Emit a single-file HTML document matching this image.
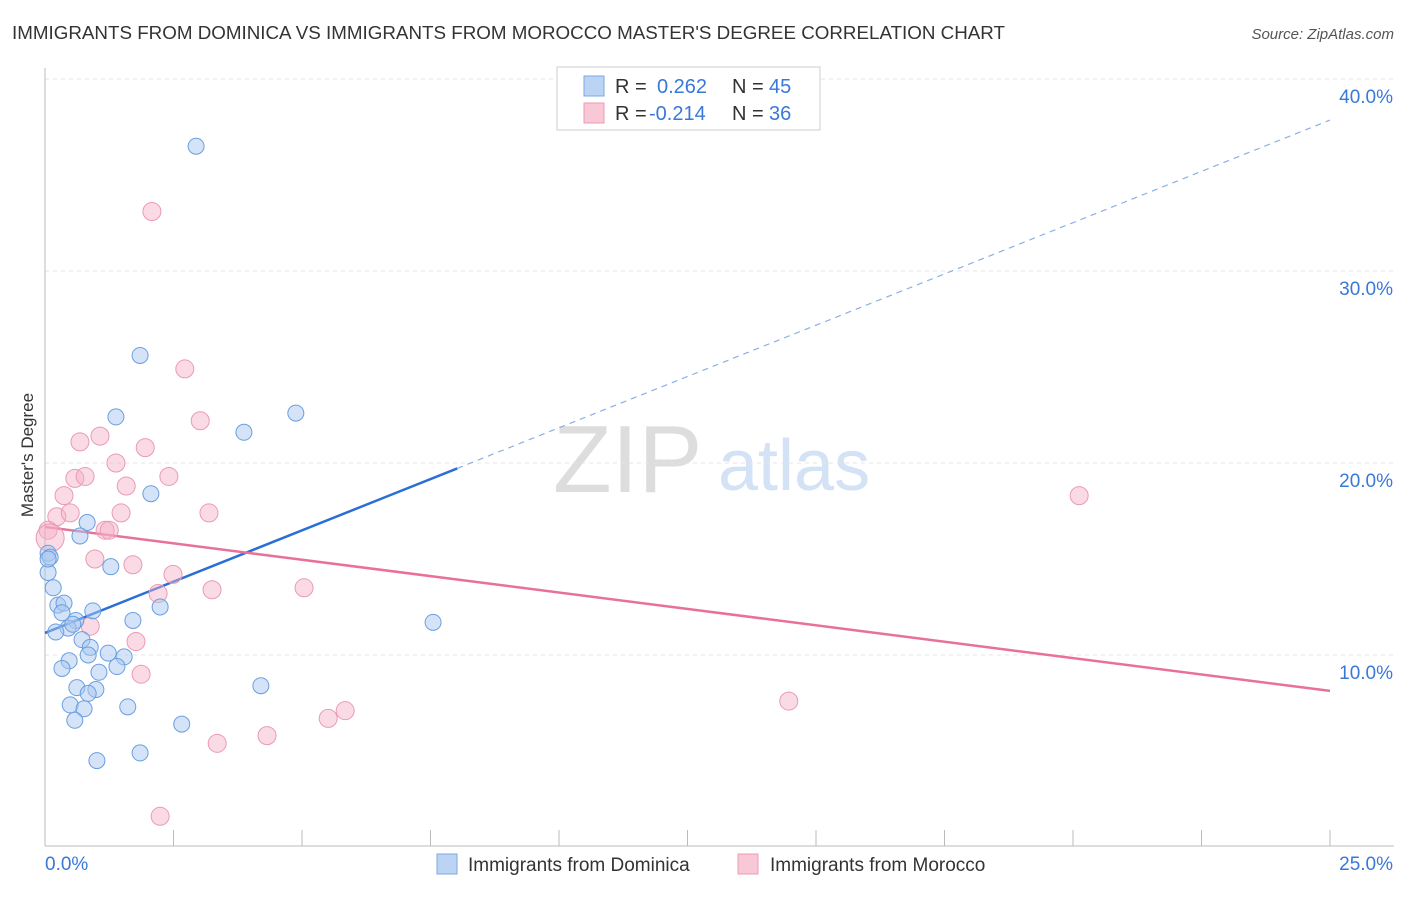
<!DOCTYPE html>
<html><head><meta charset="utf-8"><style>
body{margin:0;background:#fff;font-family:"Liberation Sans",sans-serif;}
svg text{font-family:"Liberation Sans",sans-serif;}
</style></head><body>
<svg id="c" width="1406" height="892" xmlns="http://www.w3.org/2000/svg">
<text x="12" y="39" font-size="18" fill="#333" textLength="993" lengthAdjust="spacingAndGlyphs">IMMIGRANTS FROM DOMINICA VS IMMIGRANTS FROM MOROCCO MASTER'S DEGREE CORRELATION CHART</text>
<text x="1394" y="39" font-size="15" fill="#555" text-anchor="end" font-style="italic">Source: ZipAtlas.com</text>
<text x="33" y="455" font-size="17" fill="#333" text-anchor="middle" transform="rotate(-90 33 455)">Master's Degree</text>
<g><text x="553" y="492" font-size="96" fill="#ddd" font-family="Liberation Serif,serif">ZIP</text><text x="718" y="490" font-size="72" fill="#d3e2f5">atlas</text></g>
<g id="grid"></g><g id="axes"></g><g id="lines"></g><g id="pts"></g>
<g>
<rect x="557" y="67" width="263" height="63" fill="#fff" stroke="#ccc"/>
<rect x="584" y="76" width="20" height="20" fill="#bcd4f4" stroke="#7aa7e4"/>
<text x="615" y="93" font-size="20" fill="#333">R = </text><text x="657" y="93" font-size="20" fill="#3a78d8">0.262</text>
<text x="732" y="93" font-size="20" fill="#333">N = </text><text x="769" y="93" font-size="20" fill="#3a78d8">45</text>
<rect x="584" y="103" width="20" height="20" fill="#f8c8d6" stroke="#eb9ab4"/>
<text x="615" y="120" font-size="20" fill="#333">R = </text><text x="649" y="120" font-size="20" fill="#3a78d8">-0.214</text>
<text x="732" y="120" font-size="20" fill="#333">N = </text><text x="769" y="120" font-size="20" fill="#3a78d8">36</text>
</g>
<g>
<rect x="437" y="854" width="20" height="20" fill="#bcd4f4" stroke="#7aa7e4"/>
<text x="468" y="871" font-size="19" fill="#333">Immigrants from Dominica</text>
<rect x="738" y="854" width="20" height="20" fill="#f8c8d6" stroke="#eb9ab4"/>
<text x="770" y="871" font-size="19" fill="#333">Immigrants from Morocco</text>
</g>
</svg>
<script>
const yTicks=[10,20,30,40];
const yTickLabels=["10.0%","20.0%","30.0%","40.0%"];
const xEndLabels=["0.0%","25.0%"];
const blueX=[2.94,1.85,1.38,4.88,3.87,2.06,0.82,0.68,0.06,0.10,0.06,1.28,0.16,0.25,0.37,0.93,0.33,1.71,2.24,0.60,0.45,0.21,0.54,0.72,0.88,0.84,1.23,1.54,1.40,0.47,0.33,1.05,0.62,0.99,0.84,0.49,0.76,1.61,0.58,4.20,2.66,1.85,1.01,7.55,0.06];
const blueY=[36.5,25.6,22.4,22.6,21.6,18.4,16.9,16.2,15.3,15.1,14.3,14.6,13.5,12.6,12.7,12.3,12.2,11.8,12.5,11.8,11.4,11.2,11.6,10.8,10.4,10.0,10.1,9.9,9.4,9.7,9.3,9.1,8.3,8.2,8.0,7.4,7.2,7.3,6.6,8.4,6.4,4.9,4.5,11.7,15.0];
const pinkX=[2.08,2.72,3.02,0.68,1.07,1.95,1.38,0.58,0.78,2.41,1.58,0.37,0.23,0.49,1.48,3.19,1.17,1.25,0.06,0.10,0.97,1.71,2.49,2.20,3.25,5.04,0.88,1.77,1.87,20.12,14.47,5.84,5.51,4.32,3.35,2.24];
const pinkY=[33.1,24.9,22.2,21.1,21.4,20.8,20.0,19.2,19.3,19.3,18.8,18.3,17.2,17.4,17.4,17.4,16.5,16.5,16.5,16.1,15.0,14.7,14.2,13.2,13.4,13.5,11.5,10.7,9.0,18.3,7.6,7.1,6.7,5.8,5.4,1.6];
const pinkR=[9,9,9,9,9,9,9,9,9,9,9,9,9,9,9,9,9,9,9,14,9,9,9,9,9,9,9,9,9,9,9,9,9,9,9,9];
const blueLine=[11.15,37.86], blueSolidEnd=8.02;
const pinkLine=[16.67,8.13];
const NS="http://www.w3.org/2000/svg";
const X=v=>45+v*51.4, Y=v=>847-v*19.2;
function mk(p,t,a){const e=document.createElementNS(NS,t);for(const k in a)e.setAttribute(k,a[k]);document.getElementById(p).appendChild(e);return e;}
yTicks.forEach((t,i)=>{
 let g=mk('grid','line',{x1:45,x2:1394,y1:Y(t),y2:Y(t),stroke:'#e4e4e4','stroke-dasharray':'4 4'});
 
 
 let l=mk('grid','text',{x:1393,y:Y(t)+24,'font-size':19,fill:'#3a78d8','text-anchor':'end'});l.textContent=yTickLabels[i];
 
 
});
mk('axes','line',{x1:45,x2:45,y1:68,y2:846,stroke:'#bbb'});
mk('axes','line',{x1:45,x2:1394,y1:846,y2:846,stroke:'#bbb'});
for(let i=0;i<=10;i++){let t=mk('axes','line',{x1:X(i*2.5),x2:X(i*2.5),y1:830,y2:846,stroke:'#bbb'});
 
 }
let a=mk('axes','text',{x:45,y:870,'font-size':19,fill:'#3a78d8'});a.textContent=xEndLabels[0];


let b=mk('axes','text',{x:1393,y:870,'font-size':19,fill:'#3a78d8','text-anchor':'end'});b.textContent=xEndLabels[1];


const by=x=>blueLine[0]+(blueLine[1]-blueLine[0])*x/25;
let bl=mk('lines','line',{x1:X(0),y1:Y(by(0)),x2:X(blueSolidEnd),y2:Y(by(blueSolidEnd)),stroke:'#2a6fd6','stroke-width':2.5});


let bd=mk('lines','line',{x1:X(blueSolidEnd),y1:Y(by(blueSolidEnd)),x2:X(25),y2:Y(by(25)),stroke:'#8ab0e6','stroke-width':1.2,'stroke-dasharray':'6 5'});


let pl=mk('lines','line',{x1:X(0),y1:Y(pinkLine[0]),x2:X(25),y2:Y(pinkLine[1]),stroke:'#e8709a','stroke-width':2.5});


pinkX.forEach((x,i)=>{let c=mk('pts','circle',{cx:X(x),cy:Y(pinkY[i]),r:pinkR[i],fill:'rgba(245,175,198,0.45)',stroke:'#eb9ab4','stroke-width':1});
 
 });
blueX.forEach((x,i)=>{let c=mk('pts','circle',{cx:X(x),cy:Y(blueY[i]),r:8,fill:'rgba(170,200,240,0.5)',stroke:'#6a9fe0','stroke-width':1});
 
 });
</script>
</body></html>
